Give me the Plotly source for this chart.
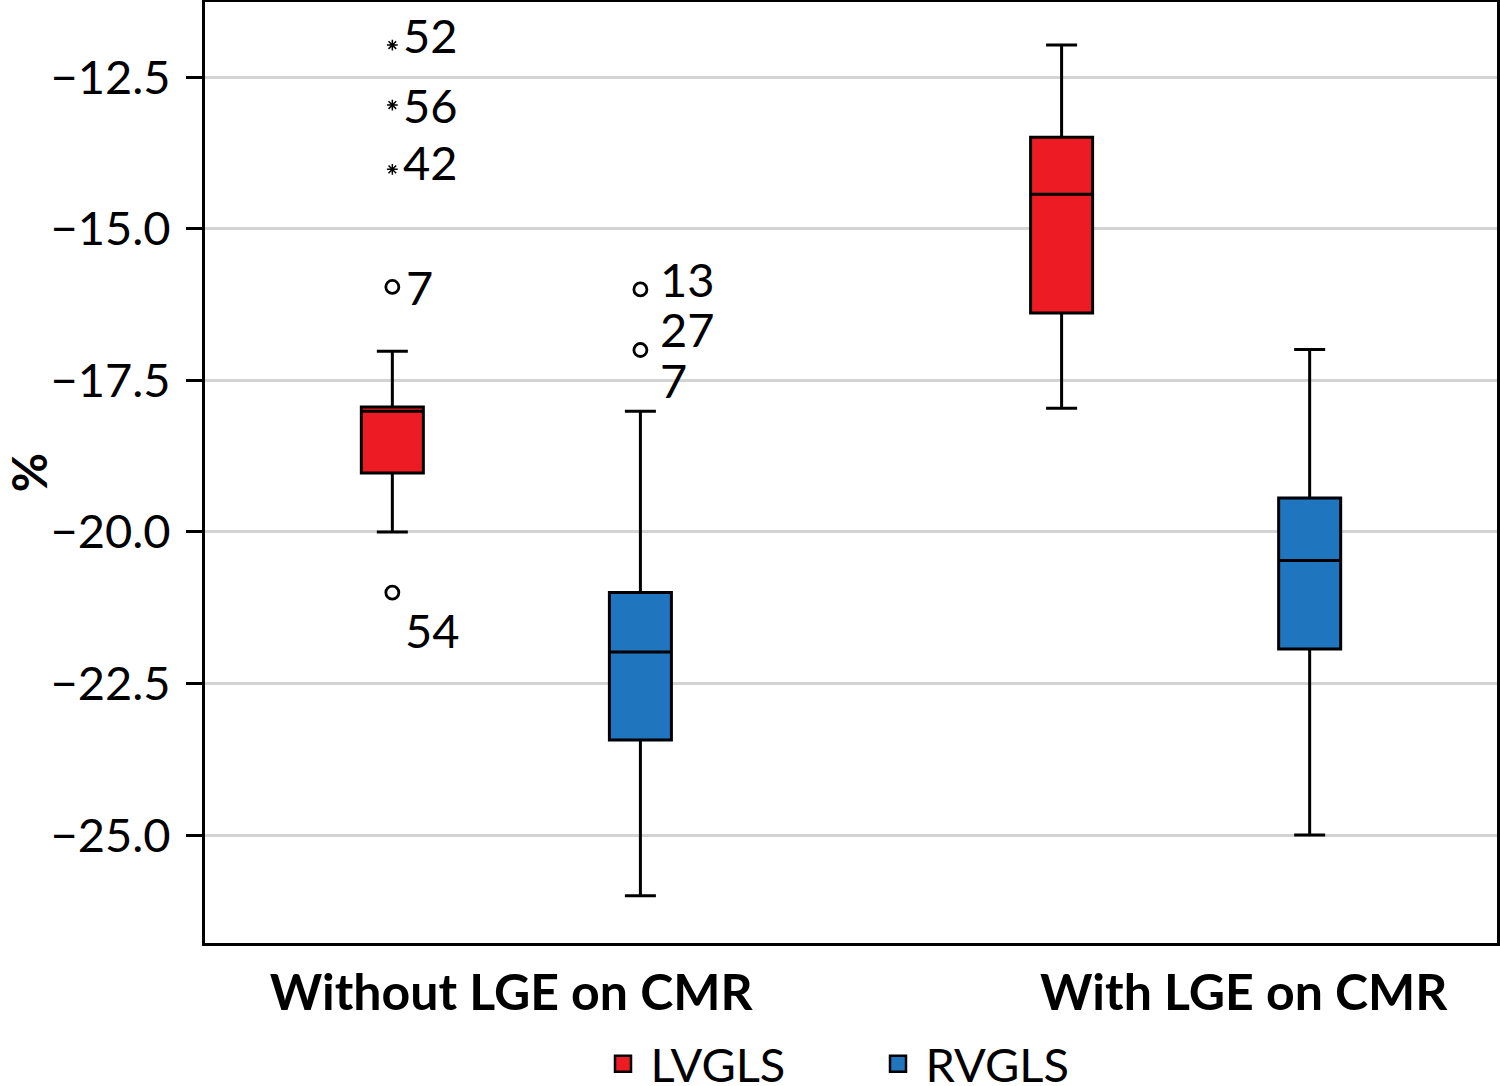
import plotly.graph_objects as go

# ---- data ----
groups = ["Without LGE on CMR", "With LGE on CMR"]
group_label_pos = [0.237, 0.804]
series = ["LVGLS", "RVGLS"]
colors = ["#ED1C24", "#1F75BE"]
# box positions (x) per series per group
pos = {"LVGLS": [0.145, 0.663], "RVGLS": [0.337, 0.855]}
q1 = {"LVGLS": [-19.03, -16.39], "RVGLS": [-23.43, -21.93]}
median = {"LVGLS": [-18.01, -14.43], "RVGLS": [-21.98, -20.47]}
q3 = {"LVGLS": [-17.94, -13.49], "RVGLS": [-21.0, -19.44]}
lowerfence = {"LVGLS": [-20.0, -17.96], "RVGLS": [-26.0, -25.0]}
upperfence = {"LVGLS": [-17.02, -11.97], "RVGLS": [-18.01, -16.99]}

# outliers (circles)
out_x = [0.145, 0.145, 0.337, 0.337]
out_y = [-15.96, -21.0, -16.0, -17.0]
out_lab = ["7", "54", "13", "27"]
# extremes (asterisks)
ext_x = [0.145, 0.145, 0.145]
ext_y = [-11.97, -12.96, -14.02]
ext_lab = ["52", "56", "42"]
# label without visible marker
extra_lab_x = [0.337]
extra_lab_y = [-18.0]
extra_lab = ["7"]

y_ticks = [-12.5, -15.0, -17.5, -20.0, -22.5, -25.0]

FONT = "Lato"

fig = go.Figure()
for s, c in zip(series, colors):
    fig.add_trace(go.Box(
        x=pos[s], q1=q1[s], median=median[s], q3=q3[s],
        lowerfence=lowerfence[s], upperfence=upperfence[s],
        name=s, fillcolor=c, line=dict(color="black", width=3),
        width=0.048, whiskerwidth=0.5, boxpoints=False, showlegend=False,
        legendgroup=s,
    ))
    # legend swatch
    fig.add_trace(go.Scatter(
        x=[None], y=[None], mode="markers", name=s, legendgroup=s,
        marker=dict(symbol="square", size=22, color=c, line=dict(color="black", width=2.5)),
        showlegend=True))

fig.add_trace(go.Scatter(
    x=out_x, y=out_y, mode="markers",
    marker=dict(symbol="circle-open", size=13, color="black", line=dict(width=2.8)),
    showlegend=False, hoverinfo="skip"))
fig.add_trace(go.Scatter(
    x=ext_x, y=ext_y, mode="markers",
    marker=dict(symbol="asterisk-open", size=9, color="black", line=dict(width=1.5)),
    showlegend=False, hoverinfo="skip"))

LBL = 47
ann = []
shifts = {"7": (12, 0), "54": (11, -37), "13": (18, 10), "27": (18, 21)}
for x, y, t in zip(out_x, out_y, out_lab):
    dx, dy = shifts[t]
    ann.append(dict(x=x, y=y, text=t, showarrow=False, xanchor="left", yanchor="middle",
                    xshift=dx, yshift=dy, font=dict(size=LBL, color="black", family=FONT)))
ext_shift = {"52": 10, "56": 0, "42": 7}
for x, y, t in zip(ext_x, ext_y, ext_lab):
    ann.append(dict(x=x, y=y, text=t, showarrow=False, xanchor="left", yanchor="middle",
                    xshift=9, yshift=ext_shift[t], font=dict(size=LBL, color="black", family=FONT)))
for x, y, t in zip(extra_lab_x, extra_lab_y, extra_lab):
    ann.append(dict(x=x, y=y, text=t, showarrow=False, xanchor="left", yanchor="middle",
                    xshift=18, yshift=31, font=dict(size=LBL, color="black", family=FONT)))

fig.update_layout(
    width=1500, height=1086,
    margin=dict(l=205, r=3, t=2, b=143, autoexpand=False),
    paper_bgcolor="white", plot_bgcolor="white",
    font=dict(family=FONT, color="black"),
    annotations=ann,
    legend=dict(orientation="h", xref="container", yref="container",
                x=0.397, xanchor="left", y=0.02, yanchor="middle",
                font=dict(size=47, family=FONT), itemwidth=45,
                entrywidthmode="pixels", entrywidth=215, bgcolor="rgba(0,0,0,0)"),
    xaxis=dict(range=[0, 1], tickvals=group_label_pos, ticktext=groups,
               tickfont=dict(size=50, family=FONT, weight="bold"), ticks="",
               showgrid=False, zeroline=False, showline=True, linecolor="black",
               linewidth=3, mirror=True, ticklabelstandoff=4, automargin=False),
    yaxis=dict(range=[-26.78, -11.26], tickvals=y_ticks,
               ticktext=["\u2212%.1f" % abs(v) for v in y_ticks],
               tickfont=dict(size=47, family=FONT), ticks="outside", ticklen=16,
               tickwidth=3, tickcolor="black",
               showgrid=True, gridcolor="#d3d3d3", gridwidth=3, zeroline=False,
               showline=True, linecolor="black", linewidth=3, mirror=True,
               title=dict(text="%", font=dict(size=48, family=FONT, weight="bold"), standoff=0),
               ticklabelstandoff=6, automargin=False),
)

fig.write_html("out.html", config={"displayModeBar": False},
               post_script="document.body.style.margin='0';document.body.style.overflow='hidden';")
